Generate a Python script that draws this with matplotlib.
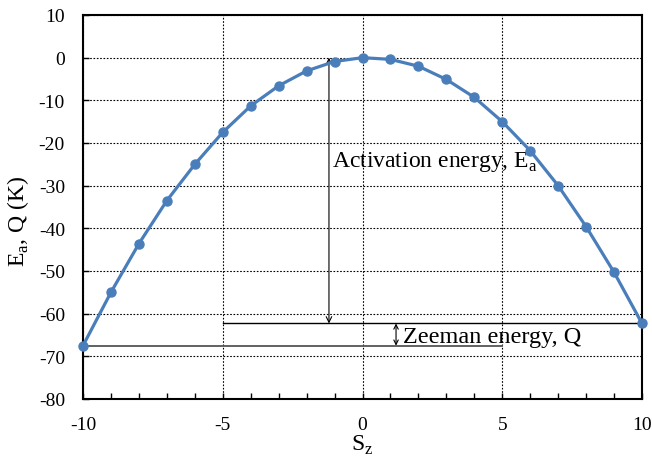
import matplotlib
matplotlib.use("Agg")
import matplotlib.pyplot as plt
from matplotlib.ticker import MultipleLocator

sz = [-10, -9, -8, -7, -6, -5, -4, -3, -2, -1, 0, 1, 2, 3, 4, 5, 6, 7, 8, 9, 10]
energy = [-67.5, -55.0, -43.6, -33.5, -25.0, -17.5, -11.3, -6.6, -3.1, -0.9, 0.0,
          -0.4, -2.0, -5.1, -9.3, -15.0, -21.8, -30.0, -39.6, -50.3, -62.3]
x_ticks = [-10, -5, 0, 5, 10]
y_ticks = [10, 0, -10, -20, -30, -40, -50, -60, -70, -80]

plt.rcParams['font.family'] = ['Liberation Serif', 'DejaVu Serif']
plt.rcParams['axes.unicode_minus'] = False
fig = plt.figure(figsize=(6.52, 4.6), dpi=100)
ax = fig.add_axes([83/652, 60/460, 559/652, 384/460])

blue = '#4a7ebb'
ax.plot(sz, energy, color=blue, lw=2.3, marker='o', ms=6.5, zorder=5, clip_on=False)

ax.set_xlim(-10, 10)
ax.set_ylim(-80, 10)
ax.set_xticks(x_ticks)
ax.set_yticks(y_ticks)
ax.xaxis.set_minor_locator(MultipleLocator(1))
ax.tick_params(axis='x', which='both', direction='in', top=False, labelsize=14, pad=12)
ax.tick_params(axis='x', which='minor', length=4, width=1)
ax.tick_params(axis='x', which='major', length=4, width=1)
ax.tick_params(axis='y', which='both', direction='in', length=4, width=1, labelsize=14, pad=13)
ax.grid(True, which='major', color='black', linestyle=(0, (1.5, 1.5)), lw=0.8)
for s in ax.spines.values():
    s.set_linewidth(1.5)

ax.set_xlabel('S$_\\mathregular{z}$', fontsize=17, labelpad=0)
ax.set_ylabel('E$_\\mathregular{a}$, Q (K)', fontsize=17)
ax.yaxis.set_label_coords(-0.093, 0.466)

e_min_left = energy[0]
e_right = energy[-1]
# Activation energy arrow
ax.annotate('', xy=(-1.2, 0), xytext=(-1.2, e_right),
            arrowprops=dict(arrowstyle='<->', color='black', lw=0.8, shrinkA=0, shrinkB=0,
                            mutation_scale=10))
ax.plot([-5, 10], [e_right, e_right], color='black', lw=1.0)
ax.plot([-10, 5], [e_min_left, e_min_left], color='#555555', lw=1.3)
ax.annotate('', xy=(1.2, e_right), xytext=(1.2, e_min_left),
            arrowprops=dict(arrowstyle='<->', color='black', lw=0.8, shrinkA=0, shrinkB=0,
                            mutation_scale=8))
ax.text(-1.1, -25.4, 'Activation energy, E$_\\mathregular{a}$', fontsize=17, va='baseline', ha='left')
ax.text(1.45, -66.6, 'Zeeman energy, Q', fontsize=17.5, va='baseline', ha='left')

fig.savefig('out.png', dpi=100)
